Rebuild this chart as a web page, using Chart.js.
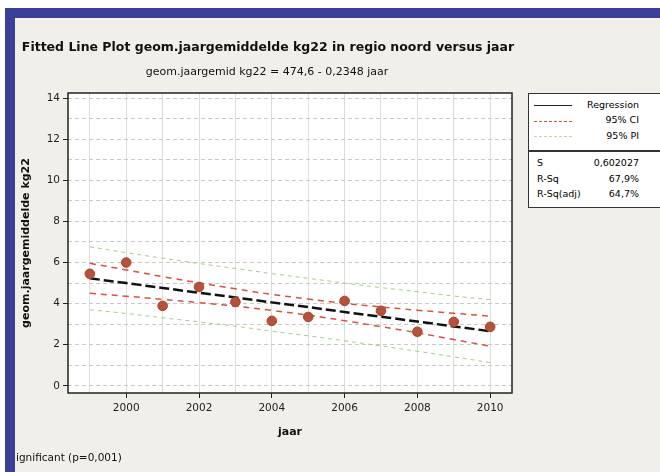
<!DOCTYPE html>
<html>
<head>
<meta charset="utf-8">
<script src="https://cdn.jsdelivr.net/npm/chart.js@4.4.1/dist/chart.umd.min.js"></script>
<style>
  body { margin: 0; background: #fff; width: 660px; height: 472px; overflow: hidden; position: relative; font-family: "DejaVu Sans", sans-serif; }
  #frame { position: absolute; left: 5px; top: 8px; width: 700px; height: 520px; border: 10px solid #3b3f98; background: #f0efe9; }
  #wrap { position: absolute; left: 0; top: 0; width: 660px; height: 472px; }
  .t { position: absolute; color: #111; white-space: nowrap; }
  #title { left: 0; width: 536px; text-align: center; top: 39px; font-weight: bold; font-size: 12.5px; }
  #subtitle { left: 0; width: 534px; text-align: center; top: 65px; font-size: 11px; }
  #note { left: 16px; top: 451px; font-size: 10.5px; }
  #legend { position: absolute; left: 528px; top: 93px; width: 150px; height: 113px; border: 1px solid #333; background: #fff; font-size: 9.5px; }
  #legend .row { position: absolute; left: 0; width: 110px; text-align: right; }
  #legend .sw { position: absolute; left: 5px; width: 38px; height: 0; }
  #legend .lab { position: absolute; left: 8px; }
  #divider { position: absolute; left: 0; top: 56px; width: 150px; height: 2px; background: #333; }
</style>
</head>
<body>
<div id="frame"></div>
<div id="wrap"><canvas id="chart" width="660" height="472"></canvas></div>
<div class="t" id="title">Fitted Line Plot geom.jaargemiddelde kg22 in regio noord versus jaar</div>
<div class="t" id="subtitle">geom.jaargemid kg22 = 474,6 - 0,2348 jaar</div>
<div class="t" id="note">ignificant (p=0,001)</div>
<div id="legend">
  <div class="sw" style="top:11px;border-top:1px solid #222;"></div>
  <div class="row" style="top:5px;">Regression</div>
  <div class="sw" style="top:27px;border-top:1.5px dashed #d9503f;"></div>
  <div class="row" style="top:20px;">95% CI</div>
  <div class="sw" style="top:42px;border-top:1px dashed #b5dca5;"></div>
  <div class="row" style="top:36px;">95% PI</div>
  <div id="divider"></div>
  <div class="lab" style="top:63px;">S</div>
  <div class="row" style="top:63px;">0,602027</div>
  <div class="lab" style="top:79px;">R-Sq</div>
  <div class="row" style="top:79px;">67,9%</div>
  <div class="lab" style="top:94px;">R-Sq(adj)</div>
  <div class="row" style="top:94px;">64,7%</div>
</div>
<script>
const years = [1999, 2000, 2001, 2002, 2003, 2004, 2005, 2006, 2007, 2008, 2009, 2010];
const meanKg22 = [5.45, 6.0, 3.89, 4.81, 4.08, 3.16, 3.35, 4.13, 3.65, 2.63, 3.11, 2.87];
const fitted = [5.23, 5.00, 4.76, 4.53, 4.30, 4.06, 3.83, 3.59, 3.36, 3.13, 2.89, 2.66];
const ciUpper = [5.96, 5.64, 5.31, 5.01, 4.72, 4.45, 4.22, 4.01, 3.84, 3.68, 3.53, 3.39];
const ciLower = [4.50, 4.36, 4.21, 4.05, 3.88, 3.67, 3.44, 3.17, 2.88, 2.58, 2.25, 1.93];
const piUpper = [6.76, 6.48, 6.21, 5.95, 5.71, 5.46, 5.23, 5.00, 4.78, 4.58, 4.37, 4.19];
const piLower = [3.70, 3.52, 3.31, 3.11, 2.90, 2.66, 2.43, 2.19, 1.94, 1.68, 1.41, 1.13];
const xTicks = [2000, 2002, 2004, 2006, 2008, 2010];
const yTicks = [0, 2, 4, 6, 8, 10, 12, 14];
const yGrid = [0, 1, 2, 3, 4, 5, 6, 7, 8, 9, 10, 11, 12, 13, 14];

const pts = vals => years.map((y, i) => ({ x: y, y: vals[i] }));

const plotFrame = {
  id: 'plotFrame',
  beforeDraw(chart) {
    const { ctx, chartArea: a } = chart;
    ctx.save();
    ctx.fillStyle = '#fff';
    ctx.fillRect(a.left, a.top, a.right - a.left, a.bottom - a.top);
    ctx.restore();
  },
  afterDraw(chart) {
    const { ctx, chartArea: a } = chart;
    ctx.save();
    ctx.strokeStyle = '#222';
    ctx.lineWidth = 1.5;
    ctx.strokeRect(a.left, a.top, a.right - a.left, a.bottom - a.top);
    ctx.restore();
  }
};

const ctx = document.getElementById('chart').getContext('2d');
new Chart(ctx, {
  type: 'scatter',
  data: {
    datasets: [
      { label: 'Data', data: pts(meanKg22), pointRadius: 4.8, pointBackgroundColor: '#b5523c', pointBorderColor: '#a8442f', pointBorderWidth: 1, showLine: false },
      { label: 'Regression', data: pts(fitted), showLine: true, borderColor: '#111', borderWidth: 2.5, borderDash: [10, 4], pointRadius: 0 },
      { label: '95% CI', data: pts(ciUpper), showLine: true, borderColor: '#d9503f', borderWidth: 1.5, borderDash: [6, 5], pointRadius: 0, tension: 0.4 },
      { label: '95% CI', data: pts(ciLower), showLine: true, borderColor: '#d9503f', borderWidth: 1.5, borderDash: [6, 5], pointRadius: 0, tension: 0.4 },
      { label: '95% PI', data: pts(piUpper), showLine: true, borderColor: '#9dd08a', borderWidth: 1, borderDash: [4, 4], pointRadius: 0, tension: 0.4 },
      { label: '95% PI', data: pts(piLower), showLine: true, borderColor: '#9dd08a', borderWidth: 1, borderDash: [4, 4], pointRadius: 0, tension: 0.4 }
    ]
  },
  options: {
    responsive: false,
    animation: false,
    layout: { padding: { left: 16, top: 93, right: 148, bottom: 29 } },
    plugins: { legend: { display: false }, tooltip: { enabled: false } },
    scales: {
      x: {
        type: 'linear', min: 1998.4, max: 2010.6,
        afterBuildTicks: s => { s.ticks = years.map(v => ({ value: v })); },
        afterFit: s => { s.height = 50; },
        ticks: {
          color: '#222', font: { family: 'DejaVu Sans', size: 10.5 }, padding: 4,
          callback: v => xTicks.includes(v) ? String(v) : ''
        },
        grid: {
          color: '#dedede', lineWidth: 1, tickLength: 5,
          tickColor: c => (c.tick && xTicks.includes(c.tick.value)) ? '#222' : 'rgba(0,0,0,0)'
        },
        border: { display: false },
        title: { display: true, text: 'jaar', color: '#111', font: { family: 'DejaVu Sans', size: 11, weight: 'bold' }, padding: { top: 4, bottom: 4 } }
      },
      y: {
        type: 'linear', min: -0.35, max: 14.25,
        afterBuildTicks: s => { s.ticks = yGrid.map(v => ({ value: v })); },
        afterFit: s => { s.width = 52; },
        ticks: {
          color: '#222', font: { family: 'DejaVu Sans', size: 10.5 }, padding: 3,
          callback: v => yTicks.includes(v) ? String(v) : ''
        },
        grid: {
          color: '#c9c9c9', lineWidth: 1, tickLength: 5,
          tickColor: c => (c.tick && yTicks.includes(c.tick.value)) ? '#222' : 'rgba(0,0,0,0)'
        },
        border: { display: false, dash: [4, 3] },
        title: { display: true, text: 'geom.jaargemiddelde kg22', color: '#111', font: { family: 'DejaVu Sans', size: 11, weight: 'bold' }, padding: { bottom: 2 } }
      }
    }
  },
  plugins: [plotFrame]
});
</script>
</body>
</html>
